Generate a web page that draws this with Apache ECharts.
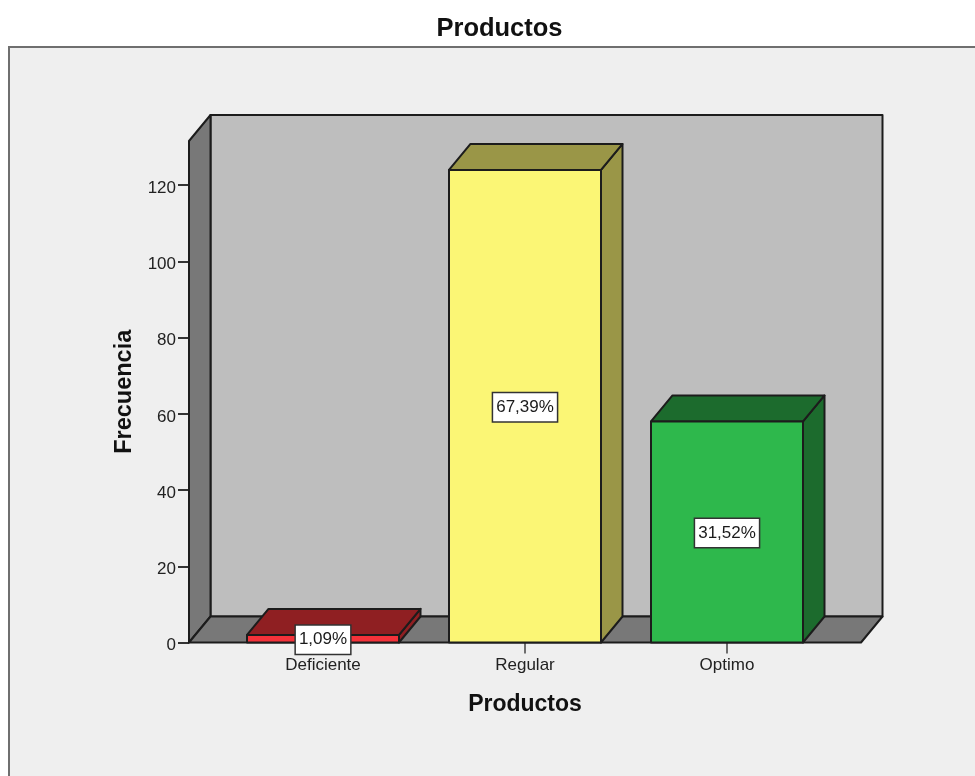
<!DOCTYPE html>
<html>
<head>
<meta charset="utf-8">
<style>html,body{margin:0;padding:0;background:#fff}#chart{width:975px;height:776px}</style>
<script src="https://cdn.jsdelivr.net/npm/echarts@6/dist/echarts.min.js"></script>
</head>
<body>
<div id="chart"></div>
<script>
// Frequency counts per rating
const categories = ['Deficiente', 'Regular', 'Optimo'];
const frequencies = [2, 124, 58];
const percentLabels = ['1,09%', '67,39%', '31,52%'];
const yTicks = [0, 20, 40, 60, 80, 100, 120];
const yTop = 131.6;

const frontColors = ['#f4323a', '#fbf675', '#2eb84c'];
const topColors = ['#8f1f22', '#9a9647', '#1c6b2d'];
const sideColors = ['#8f1f22', '#9a9647', '#1c6b2d'];

// Oblique projection offset shared by the walls and the boxes
const DX = 21.5, DY = -26;
const WALL_PAD = 33;
const BAR_W = 152;
const EDGE = '#1c1c1c';
const FONT = '"Liberation Sans", Arial, sans-serif';

function poly(points, fill) {
  return { type: 'polygon', shape: { points },
    style: { fill, stroke: EDGE, lineWidth: 2, lineJoin: 'round' } };
}

function renderRoom(params, api) {
  const band = api.size([1, 0])[0];
  const left = api.coord([0, 0])[0] - band / 2 - WALL_PAD;
  const right = api.coord([categories.length - 1, 0])[0] + band / 2 + WALL_PAD;
  const y0 = api.coord([0, 0])[1];
  const y1 = api.coord([0, api.value(1)])[1];
  return { type: 'group', children: [
    poly([[left + DX, y1 + DY], [right + DX, y1 + DY], [right + DX, y0 + DY], [left + DX, y0 + DY]], '#bebebe'),
    poly([[left, y1], [left + DX, y1 + DY], [left + DX, y0 + DY], [left, y0]], '#787878'),
    poly([[left, y0], [right, y0], [right + DX, y0 + DY], [left + DX, y0 + DY]], '#787878')
  ] };
}

function renderBox(params, api) {
  const i = params.dataIndex;
  const cx = api.coord([i, 0])[0];
  const y0 = api.coord([i, 0])[1];
  const y1 = api.coord([i, api.value(1)])[1];
  const ym = api.coord([i, api.value(1) / 2])[1];
  const l = cx - BAR_W / 2, r = cx + BAR_W / 2;
  return { type: 'group', children: [
    poly([[r, y1], [r + DX, y1 + DY], [r + DX, y0 + DY], [r, y0]], sideColors[i]),
    poly([[l, y1], [r, y1], [r + DX, y1 + DY], [l + DX, y1 + DY]], topColors[i]),
    poly([[l, y1], [r, y1], [r, y0], [l, y0]], frontColors[i]),
    { type: 'text', z2: 10, style: {
      x: cx, y: ym + 1, text: percentLabels[i], align: 'center', verticalAlign: 'middle',
      font: '17px ' + FONT, fill: '#1a1a1a', backgroundColor: '#fff',
      borderColor: '#333', borderWidth: 1.5, padding: [7, 3, 4, 3]
    } }
  ] };
}

const chart = echarts.init(document.getElementById('chart'), null, { renderer: 'canvas' });
chart.setOption({
  animation: false,
  backgroundColor: '#fff',
  title: {
    text: 'Productos', left: 494.5, top: 11, textAlign: 'center',
    textStyle: { fontFamily: FONT, fontSize: 25.5, fontWeight: 'bold', color: '#111' }
  },
  graphic: [{
    type: 'rect', z: -10, silent: true,
    shape: { x: 9, y: 47, width: 1000, height: 800 },
    style: { fill: '#efefef', stroke: '#6f6f6f', lineWidth: 2 }
  }],
  grid: { left: 222, right: 147, top: 141, bottom: 133.5 },
  xAxis: {
    type: 'category', data: categories,
    name: 'Productos', nameLocation: 'middle', nameGap: 51,
    nameTextStyle: { fontFamily: FONT, fontSize: 23, fontWeight: 'bold', color: '#111' },
    axisLine: { show: false },
    axisTick: { show: true, alignWithLabel: true, length: 11, lineStyle: { color: '#444', width: 1.5 } },
    axisLabel: { fontFamily: FONT, fontSize: 17, color: '#222', margin: 14 },
    splitLine: { show: false }
  },
  yAxis: {
    type: 'value', min: 0, max: yTop, interval: 20, offset: 33,
    name: 'Frecuencia', nameLocation: 'middle', nameGap: 52.5, nameRotate: 90,
    nameTextStyle: { fontFamily: FONT, fontSize: 23.5, fontWeight: 'bold', color: '#111' },
    axisLine: { show: false },
    axisTick: { show: true, length: 11, customValues: yTicks, lineStyle: { color: '#333', width: 2 } },
    axisLabel: { fontFamily: FONT, fontSize: 17, color: '#222', margin: 13, verticalAlign: 'top', lineHeight: 6, customValues: yTicks },
    splitLine: { show: false }
  },
  series: [
    { type: 'custom', z: 1, silent: true, renderItem: renderRoom, clip: false,
      encode: { x: 0, y: 1 }, data: [[0, yTop]] },
    { type: 'custom', z: 5, silent: true, renderItem: renderBox, clip: false,
      encode: { x: 0, y: 1 }, data: categories.map((c, i) => [i, frequencies[i]]) }
  ]
});
</script>
</body>
</html>
